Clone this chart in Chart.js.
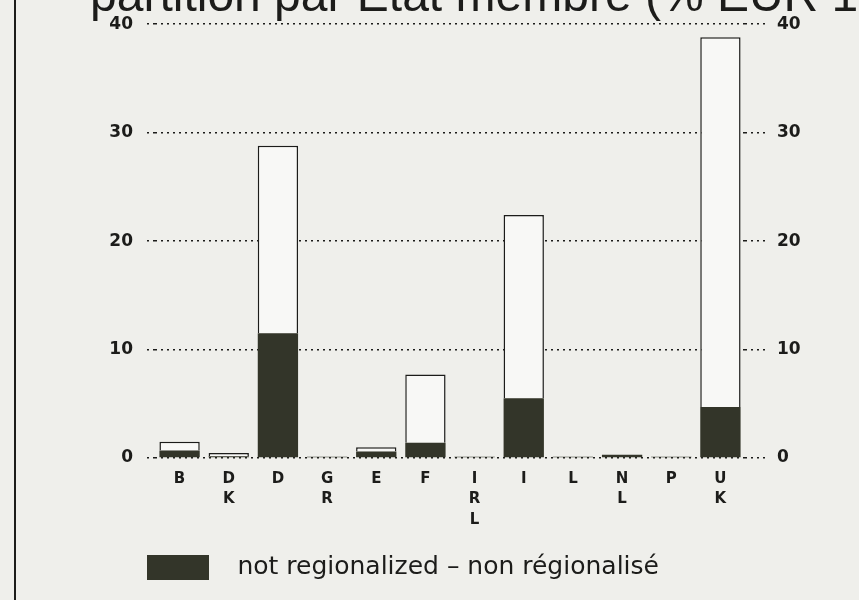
<!DOCTYPE html>
<html>
<head>
<meta charset="utf-8">
<script src="https://cdn.jsdelivr.net/npm/chart.js@4"></script>
<style>
  body { margin: 0; background: #efefeb; }
  #wrap { width: 859px; height: 600px; position: relative; }
</style>
</head>
<body>
<div id="wrap"><canvas id="grafico" width="859" height="600"></canvas></div>
<script>
// valeurs (% EUR 12)
const pays = ["B", ["D", "K"], "D", ["G", "R"], "E", "F", ["I", "R", "L"], "I", "L", ["N", "L"], "P", ["U", "K"]];
const nonRegionalise = [0.7, 0.15, 11.5, 0.12, 0.6, 1.4, 0.12, 5.5, 0.12, 0.3, 0.12, 4.7];
const regionalise = [0.8, 0.3, 17.3, 0, 0.4, 6.3, 0, 16.9, 0, 0, 0, 34.1];
const graduations = [0, 10, 20, 30, 40];

const titre = "partition par Etat membre (% EUR 12)";
const legende = "  not regionalized \u2013 non r\u00e9gionalis\u00e9";

const encre = "#1c1c1a";
const police = "'DejaVu Sans', sans-serif";
const pointille = [2, 4];

// fond, cadre gauche et titre coupé en haut
const decor = {
  id: "decor",
  beforeDraw(chart) {
    const ctx = chart.ctx;
    ctx.save();
    ctx.fillStyle = "#efefeb";
    ctx.fillRect(0, 0, chart.width, chart.height);
    ctx.fillStyle = encre;
    ctx.fillRect(14, 0, 2, chart.height);
    ctx.font = "48px 'Liberation Sans', Arial, sans-serif";
    ctx.textBaseline = "alphabetic";
    ctx.fillText(titre, 90, 11);
    ctx.restore();
  },
  afterLayout(chart) {
    // légende alignée sur le début des barres
    const lg = chart.legend;
    const dx = 147 - (lg.left + 10);
    lg.left += dx;
    lg.right += dx;
  }
};

new Chart(document.getElementById("grafico"), {
  type: "bar",
  data: {
    labels: pays,
    datasets: [
      {
        label: legende,
        data: nonRegionalise,
        backgroundColor: "#333529",
        borderWidth: 0,
        stack: "s"
      },
      {
        label: "regionalized",
        data: regionalise,
        backgroundColor: "#f8f8f6",
        borderColor: encre,
        borderWidth: 1.5,
        stack: "s"
      }
    ]
  },
  options: {
    responsive: false,
    animation: false,
    layout: { padding: { top: 22, left: 100, right: 0, bottom: 10 } },
    datasets: { bar: { barPercentage: 0.82, categoryPercentage: 1 } },
    scales: {
      x: {
        stacked: true,
        grid: { display: false },
        border: { display: false },
        ticks: {
          color: encre,
          font: { family: police, size: 15, weight: "bold", lineHeight: 1.35 },
          padding: 3,
          maxRotation: 0,
          autoSkip: false
        },
        afterFit(scale) { scale.height = 87; }
      },
      y: {
        stacked: true,
        min: 0,
        max: 40,
        position: "left",
        border: { display: false, dash: pointille },
        grid: {
          color: encre,
          lineWidth: 1.6,
          tickLength: 8,
          tickBorderDash: pointille
        },
        ticks: {
          color: encre,
          font: { family: police, size: 17, weight: "bold" },
          padding: 14,
          callback: (v) => (graduations.includes(v) ? v : null),
          stepSize: 10
        },
        afterFit(scale) { scale.width = 55; }
      },
      y2: {
        min: 0,
        max: 40,
        position: "right",
        border: { display: false, dash: pointille },
        grid: {
          drawOnChartArea: false,
          color: encre,
          lineWidth: 1.6,
          tickLength: 20,
          tickBorderDash: pointille
        },
        ticks: {
          color: encre,
          font: { family: police, size: 17, weight: "bold" },
          padding: 12,
          stepSize: 10
        },
        afterFit(scale) { scale.width = 114; }
      }
    },
    plugins: {
      tooltip: { enabled: false },
      legend: {
        position: "bottom",
        align: "start",
        labels: {
          filter: (item) => item.datasetIndex === 0,
          boxWidth: 62,
          boxHeight: 25,
          padding: 10,
          color: encre,
          font: { family: police, size: 25 }
        }
      }
    }
  },
  plugins: [decor]
});
</script>
</body>
</html>
